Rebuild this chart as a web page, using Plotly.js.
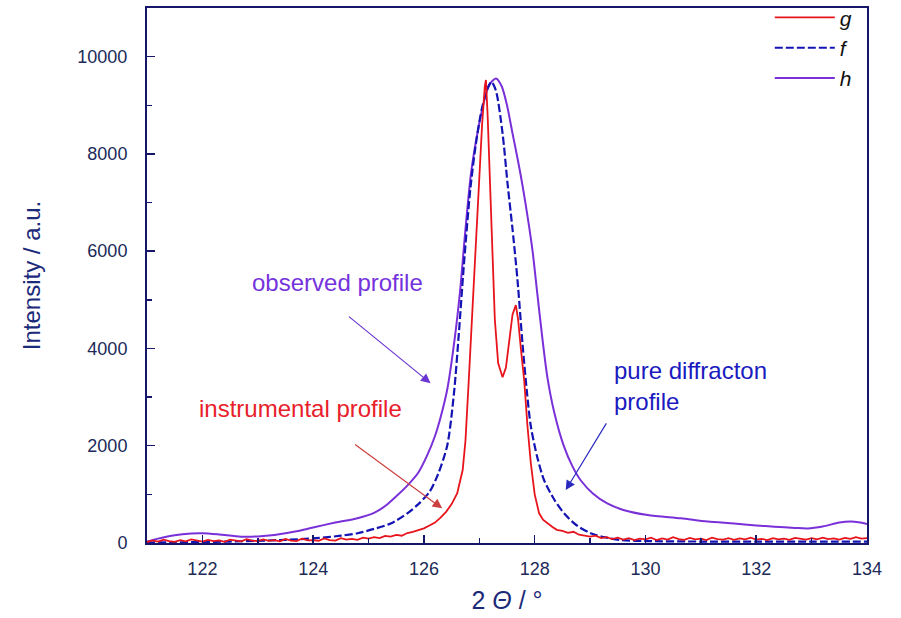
<!DOCTYPE html>
<html>
<head>
<meta charset="utf-8">
<script src="https://cdn.plot.ly/plotly-3.0.1.min.js"></script>
<style>html,body{margin:0;padding:0;background:#fff;}#chart{width:901px;height:618px;}</style>
</head>
<body>
<div id="chart"></div>
<script>
// ---- data ----
var seriesNames = ['g', 'f', 'h'];

// h : observed profile
var hX = [121.0,121.2,121.5,121.8,122.0,122.3,122.7,123.0,123.3,123.7,124.0,124.4,124.8,125.1,125.3,125.5,125.7,125.9,126.05,126.2,126.3,126.42,126.55,126.65,126.75,126.85,126.97,127.08,127.18,127.30,127.40,127.50,127.60,127.70,127.78,127.88,127.96,128.05,128.15,128.23,128.35,128.53,128.68,128.83,129.05,129.31,129.6,130.04,130.64,131.12,131.6,132.0,132.33,132.7,132.93,133.2,133.5,133.71,133.85,134.0];
var hY = [30,90,160,195,200,175,130,135,165,240,320,420,510,620,760,960,1180,1450,1780,2200,2580,3150,4150,5150,6450,7600,8450,9050,9420,9550,9400,9000,8420,7850,7350,6650,6016,5100,4100,3400,2700,1980,1580,1290,1020,815,680,575,507,440,400,360,335,310,300,340,420,440,425,390];

// f : pure diffraction profile
var fX = [121.0,121.5,122.0,122.5,123.0,123.5,124.05,124.5,124.8,125.1,125.4,125.7,125.9,126.1,126.25,126.42,126.54,126.63,126.72,126.84,126.95,127.05,127.15,127.22,127.30,127.42,127.51,127.60,127.69,127.78,127.86,127.93,128.05,128.17,128.35,128.53,128.75,129.01,129.3,129.55,130.0,131.0,132.0,133.0,134.0];
var fY = [10,15,20,30,45,65,100,150,200,290,400,610,800,1050,1400,2000,3050,4300,5700,7300,8300,8950,9350,9480,9300,8420,7390,6450,5400,4100,3100,2400,1750,1290,900,610,370,200,110,60,40,30,30,30,30];

// g : instrumental profile
var gX = [121.0,121.1,121.2,121.3,121.4,121.5,121.6,121.7,121.8,121.9,
          122.0,122.1,122.2,122.3,122.4,122.5,122.6,122.7,122.8,122.9,
          123.0,123.1,123.2,123.3,123.4,123.5,123.6,123.7,123.8,123.9,
          124.0,124.1,124.2,124.3,124.4,124.5,124.6,124.7,124.8,124.9,
          125.0,125.1,125.2,125.3,125.4,125.5,125.6,125.7,125.8,125.9,
          126.0,126.1,126.2,126.3,126.4,126.5,126.6,
          126.7,126.75,126.81,126.86,126.90,126.95,127.00,127.05,127.10,127.12,127.15,127.19,127.23,127.28,127.34,127.42,127.48,127.54,127.60,127.66,127.70,127.75,127.81,127.87,127.93,128.00,128.08,128.15,128.25,128.32,128.4,
          128.5,128.6,128.7,128.8,128.9,129.0,129.1,129.2,129.3,129.4,129.5,129.6,129.7,129.8,129.9,
          130.0,130.1,130.2,130.3,130.4,130.5,130.6,130.7,130.8,130.9,
          131.0,131.1,131.2,131.3,131.4,131.5,131.6,131.7,131.8,131.9,
          132.0,132.1,132.2,132.3,132.4,132.5,132.6,132.7,132.8,132.9,
          133.0,133.1,133.2,133.3,133.4,133.5,133.6,133.7,133.8,133.9,134.0];
var gY = [20,55,30,70,40,25,60,35,75,45,
          30,65,40,55,25,70,45,35,80,50,
          40,75,45,60,35,85,50,40,90,55,
          60,45,95,60,50,100,70,85,65,110,
          90,120,100,145,130,165,150,205,230,260,
          300,360,420,520,640,800,1020,
          1500,2100,3350,4500,5400,6600,7700,8600,9400,9520,8800,7390,5900,4600,3700,3410,3600,4200,4700,4890,4600,4000,3350,2400,1640,1000,610,480,380,330,270,
          250,210,230,170,150,130,150,100,120,80,110,70,100,60,90,
          75,110,60,95,70,120,80,65,105,75,
          90,60,110,80,70,100,65,95,75,110,
          70,85,60,100,75,90,65,105,80,70,
          100,75,110,80,95,70,105,85,120,90,100];

// annotation texts
var labelObserved = 'observed profile';
var labelInstrumental = 'instrumental profile';
var labelPure = 'pure diffracton<br>profile';

// ---- styling ----
var axisColor = '#16166a';
var tickColor = '#202a58';
var titleColor = '#1c2a7a';
var cG = '#e8141c', cF = '#1414b4', cH = '#7a30d8';
var font = 'Liberation Sans, Arial, sans-serif';

var traces = [
  {x: hX, y: hY, name: seriesNames[2], type: 'scatter', mode: 'lines', line: {color: cH, width: 2, shape: 'spline', smoothing: 0.8}, legendrank: 3},
  {x: fX, y: fY, name: seriesNames[1], type: 'scatter', mode: 'lines', line: {color: cF, width: 2.2, dash: '8px,3px', shape: 'spline', smoothing: 0.8}, legendrank: 2},
  {x: gX, y: gY, name: seriesNames[0], type: 'scatter', mode: 'lines', line: {color: cG, width: 1.8}, legendrank: 1}
];

var annFont = {family: font, size: 24};
var layout = {
  width: 901, height: 618,
  margin: {l: 147, r: 34, t: 8, b: 75, autoexpand: false},
  paper_bgcolor: '#ffffff', plot_bgcolor: '#ffffff',
  showlegend: true,
  legend: {x: 0.865, xanchor: 'left', y: 1.02, yanchor: 'top', bgcolor: 'rgba(0,0,0,0)',
           font: {family: font, size: 21, style: 'italic', color: '#111111'}, itemwidth: 60},
  xaxis: {range: [121, 134], tick0: 122, dtick: 2, ticks: 'inside', ticklen: 8, tickwidth: 1.5, tickcolor: axisColor,
          showline: true, mirror: true, linecolor: axisColor, linewidth: 2, showgrid: false, zeroline: false,
          tickfont: {family: font, size: 18, color: tickColor}, ticklabelstandoff: 8,
          minor: {dtick: 1, ticks: 'inside', ticklen: 5, tickwidth: 1.5, tickcolor: axisColor, showgrid: false},
          title: {text: '2 <i>Θ</i> / °', font: {family: font, size: 25, color: titleColor}, standoff: 14}},
  yaxis: {range: [0, 11000], tick0: 0, dtick: 2000, tickformat: 'd', ticks: 'inside', ticklen: 8, tickwidth: 1.5, tickcolor: axisColor,
          showline: true, mirror: true, linecolor: axisColor, linewidth: 2, showgrid: false, zeroline: false,
          tickfont: {family: font, size: 18, color: tickColor}, ticklabelstandoff: 14,
          minor: {dtick: 1000, ticks: 'inside', ticklen: 5, tickwidth: 1.5, tickcolor: axisColor, showgrid: false},
          title: {text: 'Intensity / a.u.', font: {family: font, size: 24, color: titleColor}, standoff: 30}},
  annotations: [
    {x: 124.44, y: 5360, xref: 'x', yref: 'y', text: labelObserved, showarrow: false, font: Object.assign({color: '#7433dc'}, annFont)},
    {x: 123.77, y: 2772, xref: 'x', yref: 'y', text: labelInstrumental, showarrow: false, font: Object.assign({color: '#e8202a'}, annFont)},
    {x: 129.40, y: 3224, xref: 'x', yref: 'y', text: labelPure, showarrow: false, xanchor: 'left', align: 'left', font: Object.assign({color: '#1a1ac0'}, annFont)},
    {x: 126.12, y: 3285, ax: 124.62, ay: 4680, xref: 'x', yref: 'y', axref: 'x', ayref: 'y', text: '', showarrow: true, arrowhead: 2, arrowsize: 1.6, arrowwidth: 1.2, arrowcolor: '#6a35d0'},
    {x: 126.33, y: 712, ax: 124.73, ay: 2047, xref: 'x', yref: 'y', axref: 'x', ayref: 'y', text: '', showarrow: true, arrowhead: 2, arrowsize: 1.6, arrowwidth: 1.2, arrowcolor: '#cc4040'},
    {x: 128.56, y: 1088, ax: 129.31, ay: 2490, xref: 'x', yref: 'y', axref: 'x', ayref: 'y', text: '', showarrow: true, arrowhead: 2, arrowsize: 1.6, arrowwidth: 1.2, arrowcolor: '#2a2ac0'}
  ]
};

Plotly.newPlot('chart', traces, layout, {displayModeBar: false, staticPlot: true});
</script>
</body>
</html>
